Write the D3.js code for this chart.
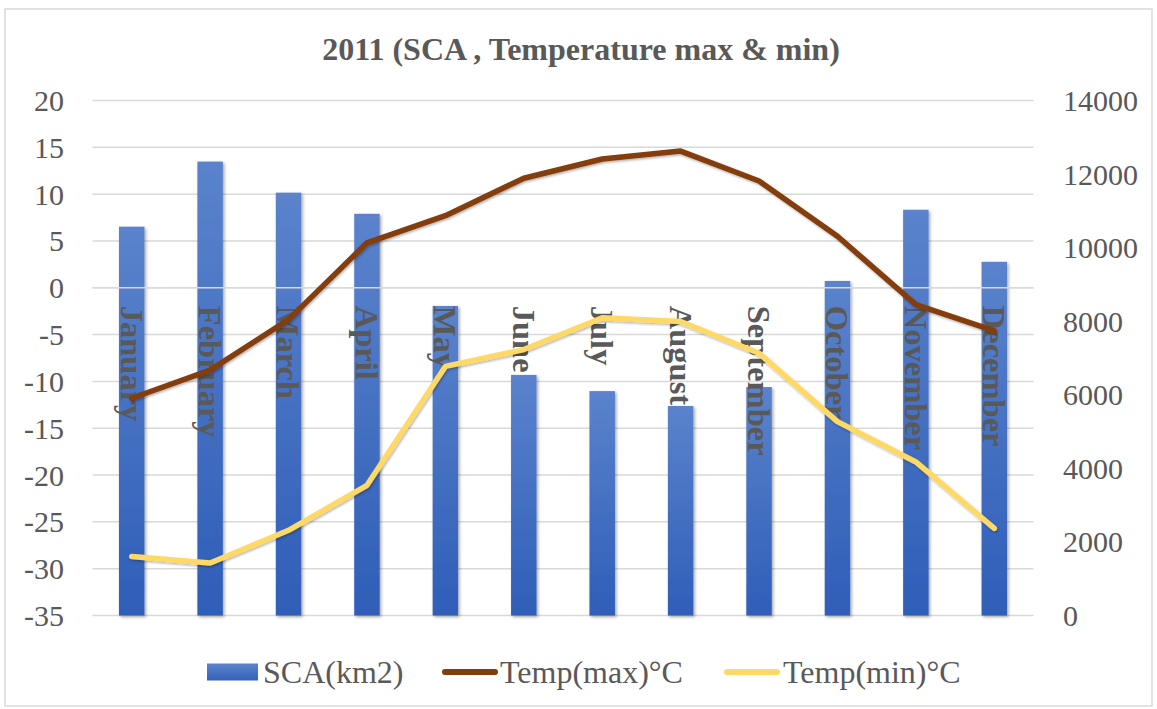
<!DOCTYPE html>
<html>
<head>
<meta charset="utf-8">
<script src="https://cdn.jsdelivr.net/npm/d3@7"></script>
<style>
  html, body { margin: 0; padding: 0; background: #fff; }
  svg { display: block; }
  svg text { font-family: "Liberation Serif", "Times New Roman", "DejaVu Serif", serif; }
</style>
</head>
<body>
<svg id="chart" width="1157" height="709"></svg>
<script>
// Monthly snow-covered area and temperature extremes, 2011
const months = ["January","February","March","April","May","June","July","August","September","October","November","December"];
const sca     = [10570, 12340, 11495, 10920, 8415, 6540, 6100, 5695, 6210, 9095, 11030, 9615];
const tempMax = [-11.8, -8.8, -3.4, 4.8, 7.7, 11.7, 13.75, 14.6, 11.4, 5.5, -1.8, -4.6];
const tempMin = [-28.7, -29.4, -25.9, -21.1, -8.4, -6.6, -3.2, -3.6, -7.0, -14.3, -18.6, -25.7];
const leftTicks  = [20, 15, 10, 5, 0, -5, -10, -15, -20, -25, -30, -35];
const rightTicks = [14000, 12000, 10000, 8000, 6000, 4000, 2000, 0];
const seriesNames = ["SCA(km2)", "Temp(max)°C", "Temp(min)°C"];

const textColor = "#595959";
const gridColor = "#d9d9d9";
const maxColor = "#843c0c";
const minColor = "#ffd966";
const serif = "Liberation Serif, Times New Roman, serif";

const svg = d3.select("#chart");
const margin = { left: 92.5, right: 1033.5, top: 100.5, bottom: 615.5 };

// outer chart frame
svg.append("rect")
  .attr("x", 5).attr("y", 9).attr("width", 1147).attr("height", 697)
  .attr("fill", "#fff").attr("stroke", gridColor).attr("stroke-width", 1.5);

const defs = svg.append("defs");
const grad = defs.append("linearGradient").attr("id", "barFill")
  .attr("x1", 0).attr("y1", 0).attr("x2", 0).attr("y2", 1);
grad.append("stop").attr("offset", "0%").attr("stop-color", "#5b83cc");
grad.append("stop").attr("offset", "100%").attr("stop-color", "#2f5eb8");

const legGrad = defs.append("linearGradient").attr("id", "legFill")
  .attr("x1", 0).attr("y1", 0).attr("x2", 0).attr("y2", 1);
legGrad.append("stop").attr("offset", "0%").attr("stop-color", "#5b83cc");
legGrad.append("stop").attr("offset", "100%").attr("stop-color", "#3563ba");

const shadow = defs.append("filter").attr("id", "shadow")
  .attr("x", "-30%").attr("y", "-10%").attr("width", "160%").attr("height", "130%");
shadow.append("feDropShadow").attr("dx", 1.5).attr("dy", 1.5).attr("stdDeviation", 1.5)
  .attr("flood-color", "#000").attr("flood-opacity", 0.35);

const lineShadow = defs.append("filter").attr("id", "lineShadow")
  .attr("x", "-5%").attr("y", "-10%").attr("width", "110%").attr("height", "120%");
lineShadow.append("feDropShadow").attr("dx", 1).attr("dy", 1.5).attr("stdDeviation", 1.2)
  .attr("flood-color", "#000").attr("flood-opacity", 0.3);

const x = d3.scaleBand().domain(months).range([margin.left, margin.right]).paddingInner(0.675).paddingOuter(0.3375);
const xc = d => x(d) + x.bandwidth() / 2;
const yL = d3.scaleLinear().domain([-35, 20]).range([margin.bottom, margin.top]);
const yR = d3.scaleLinear().domain([0, 14000]).range([margin.bottom, margin.top]);

// horizontal gridlines
svg.append("g").selectAll("line").data(leftTicks).join("line")
  .attr("x1", margin.left).attr("x2", margin.right)
  .attr("y1", d => yL(d)).attr("y2", d => yL(d))
  .attr("stroke", gridColor).attr("stroke-width", 1.5);

// left axis labels
svg.append("g").selectAll("text").data(leftTicks).join("text")
  .attr("x", 64).attr("y", d => yL(d)).attr("dy", "0.35em")
  .attr("text-anchor", "end").attr("fill", textColor)
  .attr("font-family", serif).attr("font-size", 30).text(d => d);

// right axis labels
svg.append("g").selectAll("text").data(rightTicks).join("text")
  .attr("x", 1063).attr("y", d => yR(d)).attr("dy", "0.35em")
  .attr("text-anchor", "start").attr("fill", textColor)
  .attr("font-family", serif).attr("font-size", 30).text(d => d);

// SCA bars on the secondary axis
svg.append("g").selectAll("rect").data(months).join("rect")
  .attr("x", d => x(d)).attr("width", x.bandwidth())
  .attr("y", (d, i) => yR(sca[i]))
  .attr("height", (d, i) => yR(0) - yR(sca[i]))
  .attr("fill", "url(#barFill)")
  .attr("filter", "url(#shadow)");

// category axis line at zero
svg.append("line")
  .attr("x1", margin.left).attr("x2", margin.right)
  .attr("y1", yL(0)).attr("y2", yL(0))
  .attr("stroke", gridColor).attr("stroke-width", 1.5);

// rotated month labels
svg.append("g").selectAll("text").data(months).join("text")
  .attr("transform", d => `translate(${xc(d)},${yL(0) + 18}) rotate(90)`)
  .attr("dy", "0.34em")
  .attr("text-anchor", "start").attr("fill", textColor)
  .attr("font-family", serif).attr("font-size", 32.5).attr("font-weight", "bold")
  .text(d => d);

// temperature lines on the primary axis
const line = d3.line().x((d, i) => xc(months[i])).y(d => yL(d));
svg.append("path").datum(tempMax).attr("d", line)
  .attr("fill", "none").attr("stroke", maxColor).attr("stroke-width", 5.5)
  .attr("stroke-linejoin", "round").attr("stroke-linecap", "round")
  .attr("filter", "url(#lineShadow)");
svg.append("path").datum(tempMin).attr("d", line)
  .attr("fill", "none").attr("stroke", minColor).attr("stroke-width", 5.5)
  .attr("stroke-linejoin", "round").attr("stroke-linecap", "round")
  .attr("filter", "url(#lineShadow)");

// title
svg.append("text")
  .attr("x", 581).attr("y", 60).attr("text-anchor", "middle")
  .attr("fill", textColor).attr("font-family", serif)
  .attr("font-size", 32).attr("font-weight", "bold")
  .text("2011 (SCA , Temperature max & min)");

// legend
const legY = 672;
const leg = svg.append("g").attr("font-family", serif);
leg.append("rect").attr("x", 207).attr("y", legY - 8.5).attr("width", 51).attr("height", 17)
  .attr("fill", "url(#legFill)");
leg.append("text").attr("x", 263).attr("y", legY).attr("dy", "0.35em")
  .attr("fill", textColor).attr("font-family", serif).attr("font-size", 32).text(seriesNames[0]);
leg.append("line").attr("x1", 445).attr("x2", 495).attr("y1", legY).attr("y2", legY)
  .attr("stroke", maxColor).attr("stroke-width", 6).attr("stroke-linecap", "round");
leg.append("text").attr("x", 500).attr("y", legY).attr("dy", "0.35em")
  .attr("fill", textColor).attr("font-family", serif).attr("font-size", 32).text(seriesNames[1]);
leg.append("line").attr("x1", 727).attr("x2", 777).attr("y1", legY).attr("y2", legY)
  .attr("stroke", minColor).attr("stroke-width", 6).attr("stroke-linecap", "round");
leg.append("text").attr("x", 783).attr("y", legY).attr("dy", "0.35em")
  .attr("fill", textColor).attr("font-family", serif).attr("font-size", 32).text(seriesNames[2]);
</script>
</body>
</html>
